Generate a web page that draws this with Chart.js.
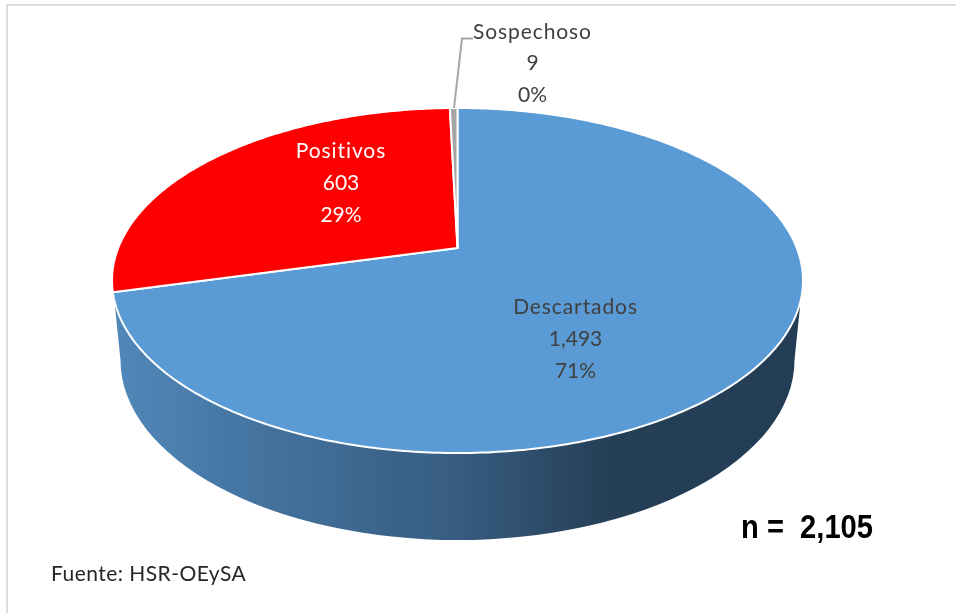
<!DOCTYPE html>
<html><head><meta charset="utf-8">
<style>html,body{margin:0;padding:0;background:#fff}canvas{display:block}</style>
<script src="https://cdn.jsdelivr.net/npm/chart.js@4"></script>
</head><body><canvas id="c" width="956" height="613"></canvas>
<script>
const categories = ["Descartados", "Positivos", "Sospechoso"];
const values = [1493, 603, 9];
const sliceColors = ["#5B9BD5", "#FF0000", "#A5A5A5"];
const labelColors = ["#404040", "#FFFFFF", "#404040"];
const sourceNote = "Fuente: HSR-OEySA";

// layout of the tilted pie (perspective projection of the unit circle)
const apex = {x: 457.5, y: 248};
const tilt = 0.1884, sx = 339.3, sy = 166.4;
const labelPos = [{x: 575.5, y: 307}, {x: 341, y: 151}, {x: 532.5, y: 32}];
const lineGap = [32, 32, 31.5];

function project(a) {
  const w = 1 - tilt * Math.sin(a);
  return {x: apex.x + sx * Math.cos(a) / w, y: apex.y + sy * Math.sin(a) / w};
}
const fmt = v => v.toLocaleString("en-US");

const pie3d = {
  id: "pie3d",
  beforeDatasetsDraw(chart) {
    const ctx = chart.ctx;
    // frame
    ctx.save();
    ctx.strokeStyle = "#DDDDDD"; ctx.lineWidth = 2;
    ctx.beginPath(); ctx.moveTo(7, 613); ctx.lineTo(7, 5); ctx.lineTo(956, 5); ctx.stroke();
    // side wall
    const g = ctx.createLinearGradient(115, 0, 800, 0);
    g.addColorStop(0, "#5088B9");
    g.addColorStop(0.21, "#44739F");
    g.addColorStop(0.5, "#375C80");
    g.addColorStop(0.72, "#253F57");
    g.addColorStop(1, "#233D55");
    ctx.fillStyle = g;
    ctx.beginPath();
    ctx.moveTo(115, 307);
    ctx.lineTo(120.5, 360);
    ctx.ellipse(457.5, 360, 337, 180, 0, Math.PI, 0, true);
    ctx.lineTo(800, 307);
    ctx.closePath();
    ctx.fill();
    ctx.restore();
  },
  beforeDatasetDraw(chart, args) {
    const ctx = chart.ctx;
    const meta = args.meta;
    ctx.save();
    meta.data.forEach((arc, i) => {
      ctx.beginPath();
      ctx.moveTo(apex.x, apex.y);
      const n = Math.max(4, Math.ceil((arc.endAngle - arc.startAngle) * 80));
      for (let s = 0; s <= n; s++) {
        const p = project(arc.startAngle + (arc.endAngle - arc.startAngle) * s / n);
        ctx.lineTo(p.x, p.y);
      }
      ctx.closePath();
      ctx.fillStyle = sliceColors[i];
      ctx.fill();
      ctx.strokeStyle = "#FFFFFF"; ctx.lineWidth = 2; ctx.lineJoin = "round";
      ctx.stroke();
    });
    ctx.restore();
    return false;
  },
  afterDatasetsDraw(chart) {
    const ctx = chart.ctx;
    const data = chart.data.datasets[0].data;
    const total = data.reduce((a, b) => a + b, 0);
    ctx.save();
    // leader line
    ctx.strokeStyle = "#A6A6A6"; ctx.lineWidth = 2;
    ctx.beginPath(); ctx.moveTo(454, 108); ctx.lineTo(462, 38.5); ctx.lineTo(473, 38.5); ctx.stroke();
    // data labels
    ctx.textAlign = "center"; ctx.textBaseline = "middle";
    ctx.font = "21px Lato";
    data.forEach((v, i) => {
      ctx.fillStyle = labelColors[i];
      const p = labelPos[i];
      ctx.letterSpacing = "0.9px";
      ctx.fillText(categories[i], p.x, p.y);
      ctx.letterSpacing = "0px";
      ctx.fillText(fmt(v), p.x, p.y + lineGap[i]);
      ctx.fillText(Math.round(v / total * 100) + "%", p.x, p.y + 2 * lineGap[i]);
    });
    // total
    ctx.fillStyle = "#000000";
    ctx.textAlign = "left";
    ctx.font = "bold 33px 'Liberation Sans'";
    ctx.save();
    ctx.translate(741, 529);
    ctx.scale(0.883, 1);
    ctx.fillText("n =  " + fmt(total), 0, 0);
    ctx.restore();
    // source
    ctx.fillStyle = "#262626";
    ctx.font = "21px Lato";
    ctx.letterSpacing = "0.45px";
    ctx.fillText(sourceNote, 51, 574);
    ctx.restore();
  }
};

new Chart(document.getElementById("c"), {
  type: "pie",
  data: {labels: categories, datasets: [{data: values, backgroundColor: sliceColors}]},
  options: {
    responsive: false, animation: false, rotation: 0,
    plugins: {legend: {display: false}, tooltip: {enabled: false}, title: {display: false}}
  },
  plugins: [pie3d]
});
</script></body></html>
